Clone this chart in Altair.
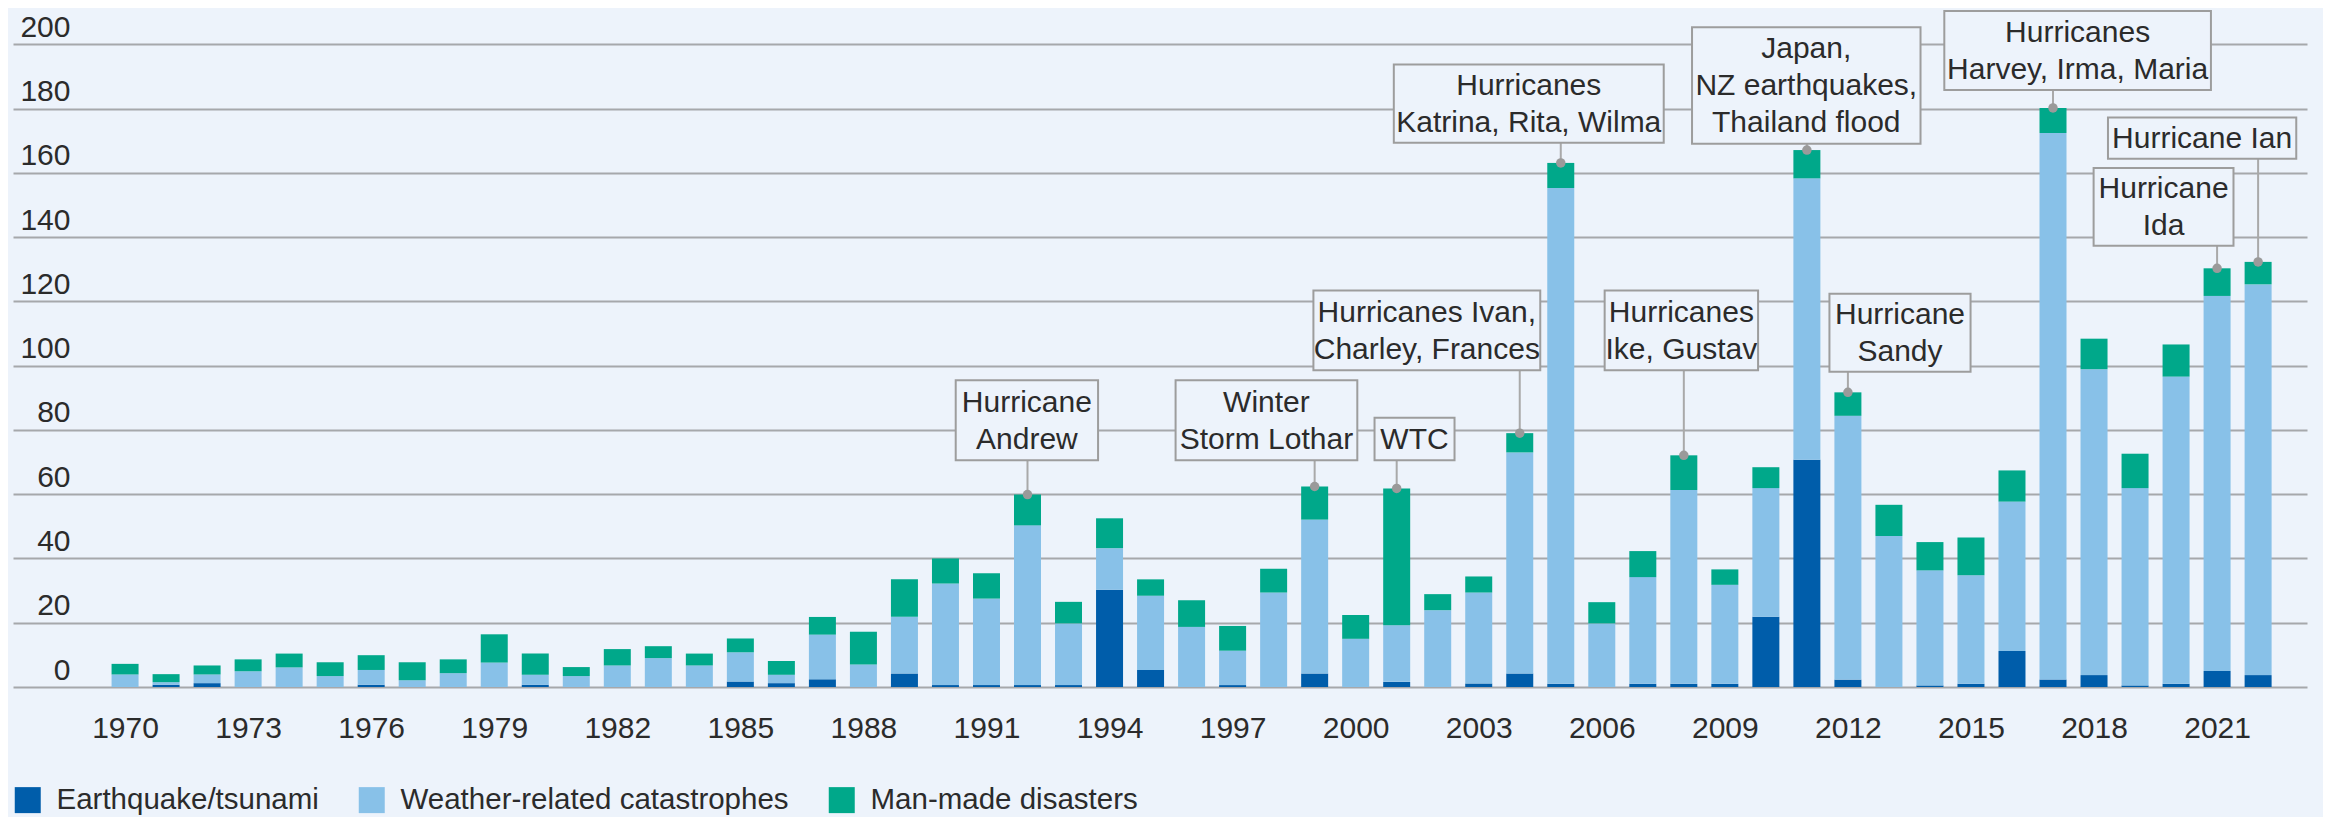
import altair as alt
import pandas as pd

# ---------------- data ----------------
years = list(range(1970, 2023))
earthquake = [0, 0.7, 1.2, 0, 0, 0, 0.7, 0, 0, 0,
              0.7, 0, 0, 0, 0, 1.7, 1.2, 2.4, 0, 4.2,
              0.6, 0.6, 0.6, 0.6, 30.3, 5.3, 0, 0.6, 0, 4.2,
              0, 1.6, 0, 1.1, 4.2, 1.0, 0, 1.0, 1.0, 1.0,
              21.9, 70.7, 2.3, 0, 0.5, 1.0, 11.2, 2.3, 3.7, 0.5,
              1.0, 5.0, 3.7]
weather = [3.9, 0.8, 2.7, 4.9, 6.1, 3.4, 4.6, 2.1, 4.3, 7.6,
           3.1, 3.4, 6.7, 9.0, 6.7, 9.1, 2.6, 13.9, 7.0, 17.7,
           31.6, 26.9, 49.7, 19.2, 12.9, 23.1, 18.7, 10.7, 29.4, 47.9,
           15.0, 17.6, 23.9, 28.3, 68.8, 154.3, 19.8, 33.2, 60.3, 30.8,
           40.0, 87.6, 82.1, 47.0, 35.8, 33.8, 46.5, 170.1, 95.2, 61.4,
           95.6, 116.7, 121.6]
manmade = [3.3, 2.5, 2.8, 3.7, 4.3, 4.3, 4.6, 5.6, 4.3, 8.8,
           6.6, 2.8, 5.1, 3.7, 3.7, 4.3, 4.3, 5.5, 10.2, 11.6,
           7.8, 7.9, 9.6, 6.7, 9.3, 5.1, 8.3, 7.7, 7.4, 10.3,
           7.4, 42.6, 5.0, 5.0, 6.0, 7.8, 6.6, 8.1, 10.8, 4.8,
           6.5, 8.8, 7.3, 9.7, 8.8, 11.7, 9.7, 7.8, 9.5, 10.7,
           10.0, 8.6, 7.0]

series = ["Earthquake/tsunami", "Weather-related catastrophes", "Man-made disasters"]
colors = ["#005DAA", "#88C1E8", "#00A88A"]
x_ticks = list(range(1970, 2022, 3))
y_ticks = list(range(0, 201, 20))

# annotations
ann_label = ["Hurricane\nAndrew", "Winter\nStorm Lothar", "WTC",
             "Hurricanes Ivan,\nCharley, Frances", "Hurricanes\nKatrina, Rita, Wilma",
             "Hurricanes\nIke, Gustav", "Japan,\nNZ earthquakes,\nThailand flood",
             "Hurricane\nSandy", "Hurricanes\nHarvey, Irma, Maria", "Hurricane\nIda",
             "Hurricane Ian"]
ann_year = [1992, 1999, 2001, 2004, 2005, 2008, 2011, 2012, 2017, 2021, 2022]
box_x0 = [1990.25, 1995.61, 2000.46, 1998.97, 2000.93, 2006.07, 2008.20, 2011.55, 2014.35, 2017.99, 2018.34]
box_x1 = [1993.72, 2000.04, 2002.41, 2004.50, 2007.51, 2009.81, 2013.77, 2014.99, 2020.85, 2021.40, 2022.93]
box_top = [95.5, 95.5, 83.8, 123.4, 193.7, 123.4, 205.3, 122.4, 210.4, 161.5, 177.2]
box_bot = [70.6, 70.6, 70.6, 98.6, 169.4, 98.6, 169.1, 98.1, 185.8, 137.3, 164.4]

# ---------------- tables ----------------
rows = []
for i, y in enumerate(years):
    for k, (name, vals) in enumerate(zip(series, [earthquake, weather, manmade])):
        rows.append({"year": y, "series": name, "value": vals[i], "order": k})
bars_df = pd.DataFrame(rows)

totals = {y: earthquake[i] + weather[i] + manmade[i] for i, y in enumerate(years)}
ann_df = pd.DataFrame({
    "label": ann_label,
    "year": ann_year,
    "x0": box_x0,
    "x1": box_x1,
    "top": box_top,
    "bot": box_bot,
})
ann_df["total"] = [totals[y] for y in ann_year]
ann_df["xc"] = (ann_df["x0"] + ann_df["x1"]) / 2
ann_df["yc"] = (ann_df["top"] + ann_df["bot"]) / 2
ann_df["nlines"] = [lbl.count("\n") + 1 for lbl in ann_label]

BG = "#EDF3FB"
FONT = "Liberation Sans"
TXT = "#2b2b2b"
LH = 37

xscale = alt.Scale(domain=[1967.39, 2023.07], nice=False, zero=False)
yscale = alt.Scale(domain=[0, 211], nice=False)

bars = alt.Chart(bars_df).mark_bar(width=27, strokeWidth=0).encode(
    x=alt.X("year:Q", scale=xscale,
            axis=alt.Axis(values=x_ticks, format="d", title=None, grid=False,
                          domain=False, ticks=False, tickSize=0,
                          labelFontSize=30, labelColor=TXT, labelFont=FONT,
                          labelBaseline="alphabetic", labelPadding=50,
                          labelFlush=False, labelOverlap=False)),
    y=alt.Y("value:Q", stack="zero", scale=yscale,
            axis=alt.Axis(values=y_ticks, title=None, grid=True,
                          gridColor="#A6A8AB", gridWidth=2,
                          domain=False, ticks=False, tickSize=0,
                          labelFontSize=30, labelColor=TXT, labelFont=FONT,
                          labelAlign="right", labelBaseline="alphabetic",
                          labelPadding=-57, labelOffset=-8,
                          labelFlush=False, labelOverlap=False)),
    color=alt.Color("series:N",
                    scale=alt.Scale(domain=series, range=colors),
                    legend=alt.Legend(orient="none", legendX=0, legendY=776,
                                      direction="horizontal", title=None,
                                      symbolType="square", symbolSize=676,
                                      symbolStrokeWidth=0, symbolOpacity=1,
                                      labelFontSize=29.5, labelFont=FONT,
                                      labelColor=TXT, labelOffset=14,
                                      columnPadding=38, labelLimit=1000,
                                      padding=0)),
    order=alt.Order("order:Q", sort="ascending"),
)

connectors = alt.Chart(ann_df).mark_rule(color="#A9A9A9", strokeWidth=2).encode(
    x=alt.X("year:Q", scale=xscale),
    y=alt.Y("bot:Q", scale=yscale),
    y2="total:Q",
)

dots = alt.Chart(ann_df).mark_circle(size=90, color="#9A9A9A", opacity=1).encode(
    x=alt.X("year:Q", scale=xscale),
    y=alt.Y("total:Q", scale=yscale),
)

boxes = alt.Chart(ann_df).mark_rect(fill=BG, stroke="#9D9D9D", strokeWidth=2).encode(
    x=alt.X("x0:Q", scale=xscale),
    x2="x1:Q",
    y=alt.Y("top:Q", scale=yscale),
    y2="bot:Q",
)


def text_layer(n):
    return alt.Chart(ann_df).transform_filter(
        alt.datum.nlines == n
    ).mark_text(fontSize=30, lineHeight=LH, lineBreak="\n",
                color=TXT, font=FONT, align="center",
                baseline="middle", dy=-(n - 1) * LH / 2 + 1).encode(
        x=alt.X("xc:Q", scale=xscale),
        y=alt.Y("yc:Q", scale=yscale),
        text="label:N",
    )


chart = alt.layer(bars, connectors, dots, boxes,
                  text_layer(1), text_layer(2), text_layer(3)).properties(
    width=2294,
    height=678,
    autosize=alt.AutoSizeParams(type="none"),
    padding={"left": 5, "top": 1, "right": 16, "bottom": 130},
    background=BG,
).configure(font=FONT).configure_view(strokeWidth=0)

chart.save("out.html", embed_options={"renderer": "svg", "actions": False})
